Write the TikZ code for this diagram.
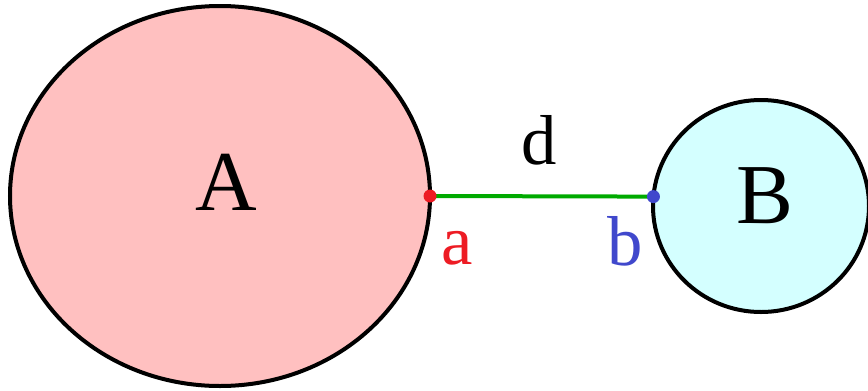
\documentclass[tikz,border=0pt]{standalone}
\usepackage{fontspec}
\setmainfont{Liberation Serif}
\usetikzlibrary{shapes.geometric,positioning}
\definecolor{blobpink}{RGB}{255,192,192}
\definecolor{blobcyan}{RGB}{212,255,255}
\definecolor{dotred}{RGB}{237,28,36}
\definecolor{dotblue}{RGB}{64,72,204}
\definecolor{linkgreen}{RGB}{0,170,0}

\begin{document}
\begin{tikzpicture}[x=0.75pt,y=-0.75pt,
  blob/.style={ellipse,draw=black,line width=3pt,inner sep=0pt,outer sep=0pt},
  biglab/.style={inner sep=0pt,font=\fontsize{64}{64}\selectfont},
  smalllab/.style={inner sep=0pt,font=\fontsize{53}{53}\selectfont}]
\useasboundingbox (0,0) rectangle (868,390);
% the two bodies
\node[blob,fill=blobpink,minimum width=315pt,minimum height=285pt] (blobA) at (220,196) {};
\node[blob,fill=blobcyan,minimum width=162pt,minimum height=159pt] (blobB) at (761,206) {};
\node[biglab] (labA) at (226,182) {A};
\node[biglab] (labB) at (765,196) {B};
% closest points and the distance between them
\coordinate (pa) at (blobA.east);
\coordinate (pb) at (blobB.175);
\draw[linkgreen,line width=3pt] (pa) -- (pb);
\fill[dotred] (pa) circle (6.5);
\fill[dotblue] (pb) circle (6.5);
\node[smalllab] (labd) at (539,140) {d};
\node[smalllab,text=dotred] (laba) at (457,248) {a};
\node[smalllab,text=dotblue] (labb) at (625,241) {b};
\end{tikzpicture}
\end{document}
